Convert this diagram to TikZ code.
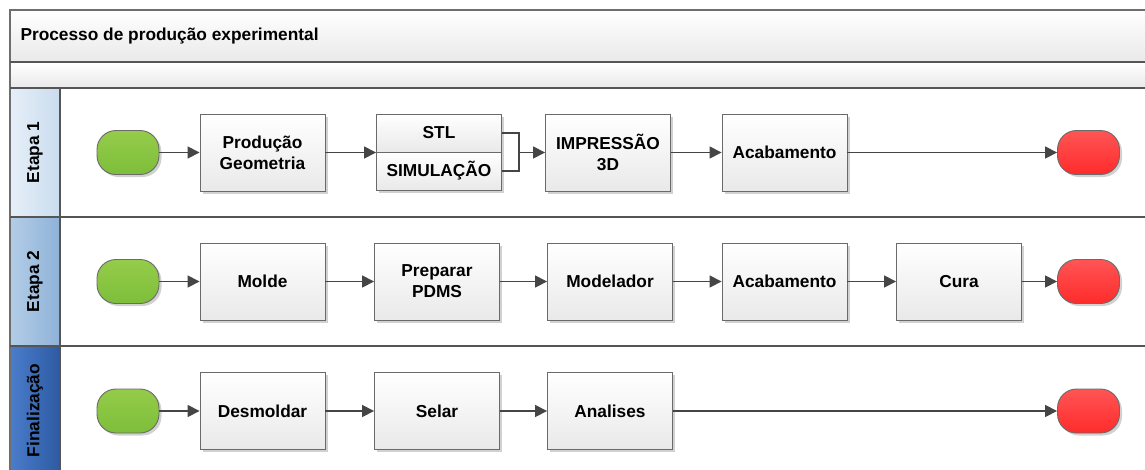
\documentclass[tikz,border=0pt]{standalone}
\usepackage{fontspec}
\setmainfont{Liberation Sans}
\usetikzlibrary{arrows.meta,shadows}
\definecolor{frameline}{HTML}{6E6E6E}
\definecolor{laneline}{HTML}{555555}
\definecolor{boxline}{HTML}{6A6A6A}
\definecolor{boxbot}{HTML}{E9E9E9}
\definecolor{arrowc}{HTML}{454545}
\definecolor{greentop}{HTML}{95CC4A}
\definecolor{greenbot}{HTML}{7DBE3A}
\definecolor{redtop}{HTML}{FF5555}
\definecolor{redbot}{HTML}{FF2B2B}
\definecolor{laneAl}{HTML}{E6EFF8}
\definecolor{laneAr}{HTML}{CADCEE}
\definecolor{laneBl}{HTML}{B3CDE7}
\definecolor{laneBr}{HTML}{8FB2D8}
\definecolor{laneCl}{HTML}{4A7DCB}
\definecolor{laneCr}{HTML}{2E5AA3}
\newcommand{\dfont}{\fontsize{17.3}{21}\selectfont\bfseries}
\begin{document}
\begin{tikzpicture}[x=1pt,y=-1pt,
  shad/.style={drop shadow={shadow xshift=2.5pt,shadow yshift=-2.5pt,fill=black,opacity=0.18}},
  stepbox/.style={draw=boxline,line width=0.9pt,top color=white,bottom color=boxbot,
    minimum width=125pt,minimum height=77pt,align=center,font=\dfont,inner sep=2pt,shad},
  halfbox/.style={stepbox,minimum height=38pt},
  term/.style={draw=boxline,line width=0.9pt,rounded corners=19pt,minimum width=62pt,
    minimum height=44pt,shad},
  startn/.style={term,top color=greentop,bottom color=greenbot},
  endn/.style={term,top color=redtop,bottom color=redbot},
  flow/.style={draw=arrowc,line width=1.6pt,-{Triangle[length=12pt,width=12pt]}},
  plain/.style={draw=arrowc,line width=1.6pt},
  lanelab/.style={font=\dfont,rotate=90,text=black},
  sep/.style={draw=laneline,line width=1.8pt}
]
\useasboundingbox (0,0) rectangle (1145,469);
\fill[white] (0,0) rectangle (1145,469);
% header bands
\shade[top color=white,bottom color=boxbot] (10,10) rectangle (1150,62);
\shade[top color=white,bottom color=boxbot] (10,62) rectangle (1150,88);
% lane label column
\shade[left color=laneAl,right color=laneAr] (10,88) rectangle (60,217);
\shade[left color=laneBl,right color=laneBr] (10,217) rectangle (60,346);
\shade[left color=laneCl,right color=laneCr] (10,346) rectangle (60,480);
\node[lanelab] (lab1) at (35,152.5) {Etapa 1};
\node[lanelab] (lab2) at (35,281.5) {Etapa 2};
\node[lanelab] (lab3) at (35,410.5) {Finalização};
% frame lines
\draw[draw=frameline,line width=1.8pt] (1150,10) -- (10,10) -- (10,480);
\draw[sep] (10,62) -- (1150,62);
\draw[sep] (10,88) -- (1150,88);
\draw[sep] (10,217) -- (1150,217);
\draw[sep] (10,346) -- (1150,346);
\draw[draw=laneline,line width=1.2pt] (60,88) -- (60,480);
\node[font=\dfont,anchor=west] (title) at (17,36) {Processo de produção experimental};
% lane 1
\node[startn] (s1) at (128,152.5) {};
\node[stepbox] (pg) at (262.5,152.5) {Produção\\Geometria};
\node[halfbox] (stl) at (439,133) {STL};
\node[halfbox] (sim) at (439,171) {SIMULAÇÃO};
\node[stepbox] (imp) at (608,152.5) {IMPRESSÃO\\3D};
\node[stepbox] (ac1) at (784.5,152.5) {Acabamento};
\node[endn] (e1) at (1088.5,152.5) {};
\coordinate (br) at (519,152.5);
\draw[flow] (s1) -- (pg);
\draw[flow] (pg.east) -- (pg.east -| stl.west);
\draw[plain] (stl.east) -| (br);
\draw[plain] (sim.east) -| (br);
\draw[flow] (br) -- (imp.west);
\draw[flow] (imp) -- (ac1);
\draw[flow] (ac1) -- (e1);
% lane 2
\node[startn] (s2) at (128,281.5) {};
\node[stepbox] (molde) at (262.5,281.5) {Molde};
\node[stepbox] (prep) at (437,281.5) {Preparar\\PDMS};
\node[stepbox] (mod) at (610,281.5) {Modelador};
\node[stepbox] (ac2) at (784.5,281.5) {Acabamento};
\node[stepbox] (cura) at (959,281.5) {Cura};
\node[endn] (e2) at (1088.5,281.5) {};
\draw[flow] (s2) -- (molde);
\draw[flow] (molde) -- (prep);
\draw[flow] (prep) -- (mod);
\draw[flow] (mod) -- (ac2);
\draw[flow] (ac2) -- (cura);
\draw[flow] (cura) -- (e2);
% lane 3
\node[startn] (s3) at (128,411) {};
\node[stepbox] (desm) at (262.5,411) {Desmoldar};
\node[stepbox] (selar) at (437,411) {Selar};
\node[stepbox] (anal) at (610,411) {Analises};
\node[endn] (e3) at (1088.5,411) {};
\draw[flow] (s3) -- (desm);
\draw[flow] (desm) -- (selar);
\draw[flow] (selar) -- (anal);
\draw[flow] (anal) -- (e3);
\end{tikzpicture}
\end{document}
